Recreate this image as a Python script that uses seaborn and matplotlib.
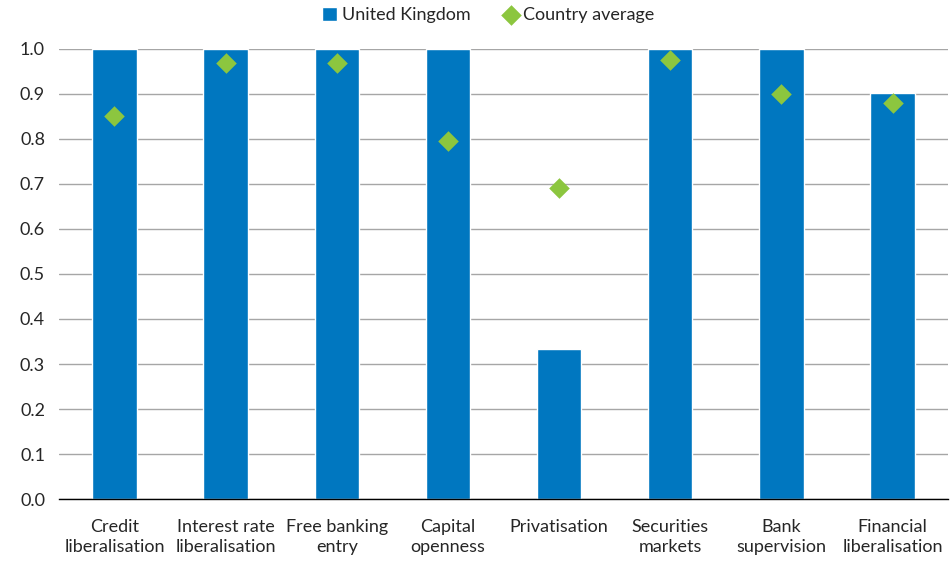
import pandas as pd
import matplotlib.pyplot as plt
import seaborn as sns
from matplotlib.ticker import FixedLocator, MultipleLocator

# datos
categorias = ["Credit\nliberalisation", "Interest rate\nliberalisation", "Free banking\nentry",
              "Capital\nopenness", "Privatisation", "Securities\nmarkets",
              "Bank\nsupervision", "Financial\nliberalisation"]
reino_unido = [1.0, 1.0, 1.0, 1.0, 0.333, 1.0, 1.0, 0.903]
promedio = [0.852, 0.969, 0.969, 0.796, 0.691, 0.976, 0.900, 0.879]

df = pd.DataFrame({"cat": categorias, "uk": reino_unido, "avg": promedio})

sns.set_style("white")
plt.rcParams["font.family"] = ["Lato", "DejaVu Sans"]

fig = plt.figure(figsize=(9.5, 5.62), dpi=100)
ax = fig.add_axes([0.062, 0.112, 0.936, 0.801])

azul = "#0077C0"
verde = "#8CC63F"

sns.barplot(data=df, x="cat", y="uk", color=azul, width=0.4, saturation=1,
            ax=ax, zorder=2, label="United Kingdom")
ax.scatter(range(len(categorias)), promedio, marker="D", s=110, color=verde,
           zorder=3, label="Country average", linewidths=0)

ax.set_ylim(0, 1.0)
ax.set_xlim(-0.5, 7.5)
ax.yaxis.set_major_locator(MultipleLocator(0.1))
ax.set_yticklabels([f"{v:.1f}" for v in ax.get_yticks()])
ax.grid(axis="y", color="#A6A6A6", linewidth=1, zorder=0)
ax.set_axisbelow(True)

for s in ["top", "right", "left"]:
    ax.spines[s].set_visible(False)
ax.spines["bottom"].set_color("black")
ax.spines["bottom"].set_linewidth(1)

ax.tick_params(axis="x", which="major", length=0, labelsize=13, pad=14)
for t in ax.get_xticklabels():
    t.set_linespacing(1.35)
ax.xaxis.set_minor_locator(FixedLocator([i - 0.5 for i in range(len(categorias) + 1)]))
ax.tick_params(axis="x", which="minor", length=6, width=1, color="black")
ax.tick_params(axis="y", length=0, labelsize=13, pad=10)
ax.set_xlabel("")
ax.set_ylabel("")

h, l = ax.get_legend_handles_labels()
orden = [l.index("United Kingdom"), l.index("Country average")]
ax.legend([h[i] for i in orden], [l[i] for i in orden],
          loc="center", bbox_to_anchor=(0.483, 1.075), ncol=2, frameon=False,
          fontsize=13, handlelength=0.8, handleheight=0.8, handletextpad=0.3,
          columnspacing=1.8)

plt.savefig("out.png", dpi=100)
